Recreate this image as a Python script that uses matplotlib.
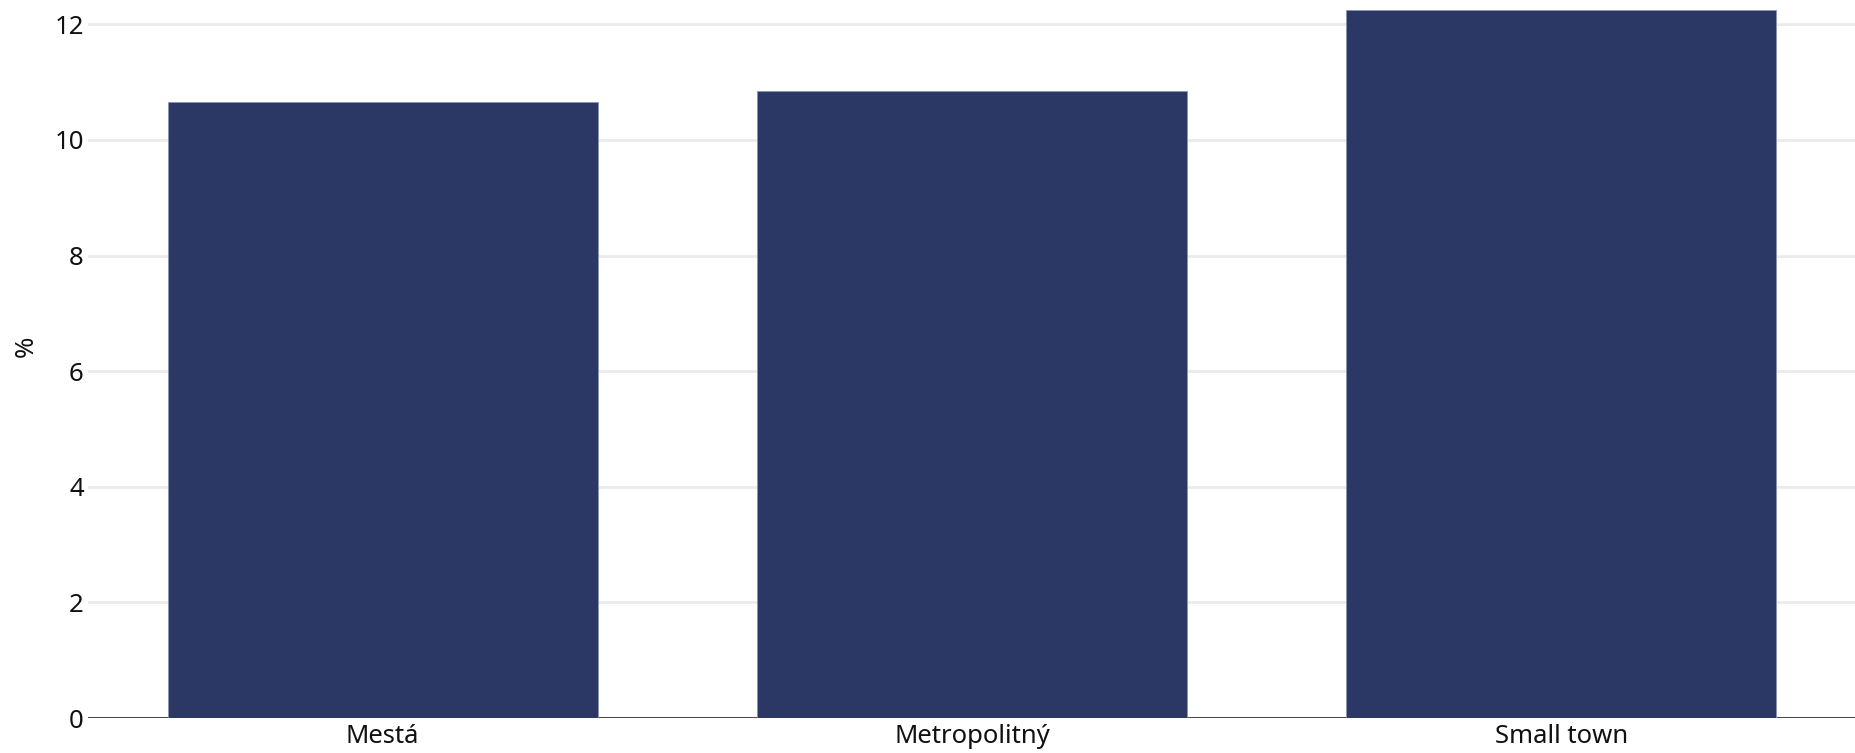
import matplotlib.pyplot as plt

categories = ['Mestá', 'Metropolitný', 'Small town']
values = [10.65, 10.85, 12.25]
yticks = [0, 2, 4, 6, 8, 10, 12]

plt.rcParams['font.family'] = ['Noto Sans', 'DejaVu Sans']

fig = plt.figure(figsize=(18.56, 7.53), dpi=100)
# axes box in pixels: left 88, bottom 753-718, top at figure edge
ax = fig.add_axes([88 / 1856, 35 / 753, 1 - 88 / 1856, 718 / 753])

x = range(len(categories))
ax.bar(x, values, width=0.73, color='#2b3765', edgecolor='#8a93b0', linewidth=0.6, zorder=3)

ax.set_xlim(-0.5, 2.5)
ax.set_ylim(0, 12.42)
ax.set_yticks(yticks)
ax.set_xticks(list(x))
ax.set_xticklabels(categories)

ax.grid(axis='y', color='#ebebeb', linewidth=2, zorder=0)
ax.axhline(0, color='#4a4a4a', linewidth=2.2, zorder=2)

for s in ax.spines.values():
    s.set_visible(False)
ax.tick_params(axis='both', length=0, labelsize=18.5, colors='#111111')
ax.tick_params(axis='y', pad=3)
ax.tick_params(axis='x', pad=4)

ax.set_ylabel('%', fontsize=18.5, color='#111111')
ax.yaxis.set_label_coords(-0.028, 0.517)

fig.savefig('out.png', dpi=100)
